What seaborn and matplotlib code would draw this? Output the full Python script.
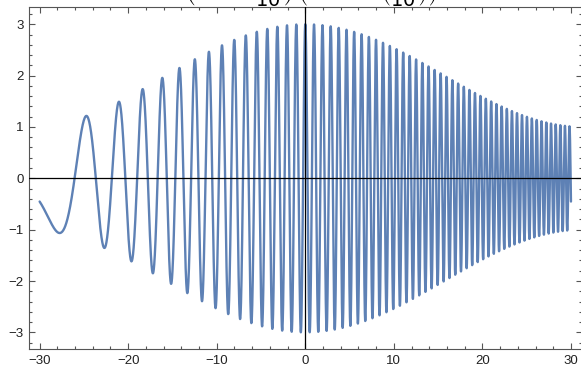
import numpy as np
import pandas as pd
import matplotlib
matplotlib.use("Agg")
import matplotlib.pyplot as plt
from matplotlib.ticker import MultipleLocator
import seaborn as sns

# Function shown in the (clipped) title: f(x) = cos(2*pi*x + x^2/10) * (2 + cos(x/10))
x_range = [-30, 30]
carrier = 2 * np.pi        # base angular frequency
chirp_div = 10             # x^2 / 10 term
env_offset = 2             # 2 + cos(x/10)
env_div = 10

x_ticks = [-30, -20, -10, 0, 10, 20, 30]
y_ticks = [-3, -2, -1, 0, 1, 2, 3]

xs = np.linspace(x_range[0], x_range[1], 12001)
ys = np.cos(carrier * xs + xs ** 2 / chirp_div) * (env_offset + np.cos(xs / env_div))
df = pd.DataFrame({"x": xs, "y": ys})

sns.set_style("ticks")
plt.rcParams["font.family"] = ["Liberation Sans", "DejaVu Sans"]

fig = plt.figure(figsize=(5.81, 3.70), dpi=100)
ax = fig.add_axes([29 / 581, 1 - 349.3 / 370, 552.6 / 581, (349.3 - 7.3) / 370])

sns.lineplot(data=df, x="x", y="y", ax=ax, color="#5E81B5", linewidth=1.7, estimator=None)

ax.axhline(0, color="black", linewidth=0.9, zorder=3)
ax.axvline(0, color="black", linewidth=0.9, zorder=3)

ax.set_xlim(-31.2, 31.2)
ax.set_ylim(-3.33, 3.33)
ax.set_xticks(x_ticks)
ax.set_yticks(y_ticks)
ax.set_xticklabels([f"{t}".replace("-", "\u2212") for t in x_ticks])
ax.set_yticklabels([f"{t}".replace("-", "\u2212") for t in y_ticks])
ax.xaxis.set_minor_locator(MultipleLocator(2))
ax.yaxis.set_minor_locator(MultipleLocator(0.2))
ax.tick_params(which="both", direction="in", top=True, right=True, color="#555555", width=0.8)
ax.tick_params(which="major", length=4.2, labelsize=9.5, labelcolor="#222222", pad=4)
ax.tick_params(which="minor", length=2.4)
ax.set_xlabel("")
ax.set_ylabel("")
for s in ax.spines.values():
    s.set_color("#555555")
    s.set_linewidth(0.8)

# title sits mostly above the top edge, as in the reference (only its lower part shows)
fig.text(0.455, 1.016,
         r"$f(x)=\cos\left(2\pi x+\dfrac{x^2}{10}\right)\,\left(2+\cos\left(\dfrac{x}{10}\right)\right)$",
         ha="center", va="baseline", fontsize=14, color="black")

fig.savefig("out.png", dpi=100)
